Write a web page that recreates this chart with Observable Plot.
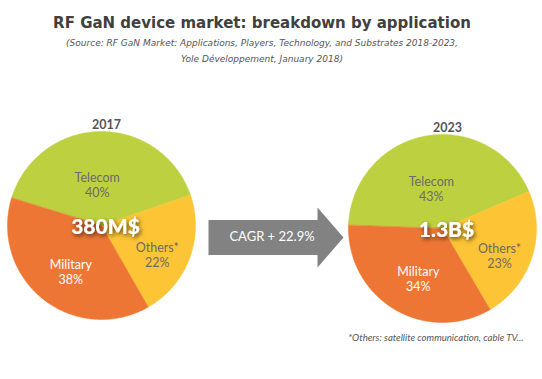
<!DOCTYPE html>
<html><head><meta charset="utf-8">
<script src="https://cdn.jsdelivr.net/npm/d3@7"></script>
<script src="https://cdn.jsdelivr.net/npm/@observablehq/plot@0.6"></script>
<style>
body{margin:0;background:#fff;}
#hdr{height:70px;width:524px;text-align:center;font-family:"DejaVu Sans",sans-serif;color:#404040;}
#t{font-weight:bold;font-size:15px;padding-top:14px;line-height:18px;}
#s{font-style:italic;font-size:9px;color:#555;line-height:16px;margin-top:3px;}
</style></head><body>
<div id="hdr"><div id="t">RF GaN device market: breakdown by application</div><div id="s">(Source: RF GaN Market: Applications, Players, Technology, and Substrates 2018-2023,<br>Yole Développement, January 2018)</div></div>
<div id="chart"></div>
<script>
const categories = ["Telecom", "Others*", "Military"];
const years = ["2017", "2023"];
const share2017 = [40, 22, 38];
const share2023 = [43, 23, 34];
const totals = ["380M$", "1.3B$"];
const cagrLabel = "CAGR + 22.9%";
const footnote = "*Others: satellite communication, cable TV...";

const colors = ["#bdd140", "#fdc535", "#ee7634"];
const labelColors = ["#6a6a6a", "#6a6a6a", "#ffffff"];
const labelR = [0.44, 0.67, 0.59];
const labelShift = [-5, 7, -5];

const W = 542, H = 379, TOP = 70;
const pies = [
  {year: years[0], total: totals[0], shares: share2017, cx: 101, cy: 225, r: 94, start: -73},
  {year: years[1], total: totals[1], shares: share2023, cx: 442, cy: 228, r: 94, start: -88}
];

const polys = [], labels = [], heads = [], centers = [];
pies.forEach(p => {
  let a = p.start;
  p.shares.forEach((v, i) => {
    const sweep = v / 100 * 360, a0 = a, a1 = a + sweep;
    const id = p.year + "-" + i;
    polys.push({id, cat: categories[i], x: p.cx, y: p.cy});
    const n = Math.ceil(sweep);
    for (let k = 0; k <= n; k++) {
      const t = (a0 + (a1 - a0) * k / n) * Math.PI / 180;
      polys.push({id, cat: categories[i], x: p.cx + p.r * Math.sin(t), y: p.cy - p.r * Math.cos(t)});
    }
    const m = ((a0 + a1) / 2 + labelShift[i]) * Math.PI / 180, lr = p.r * labelR[i];
    labels.push({x: p.cx + lr * Math.sin(m), y: p.cy - lr * Math.cos(m), text: categories[i] + "\n" + v + "%", color: labelColors[i]});
    a = a1;
  });
  heads.push({x: p.cx + 5, y: p.cy - p.r - 7, text: p.year});
  centers.push({x: p.cx + 4, y: p.cy + 2, text: p.total});
});

// decorative arrow (layout)
const ax0 = 208, ax1 = 317, atip = 343, ay = 237, bh = 17.5, hh = 30;
const arrow = [[ax0, ay - bh], [ax1, ay - bh], [ax1, ay - hh], [atip, ay], [ax1, ay + hh], [ax1, ay + bh], [ax0, ay + bh]].map(([x, y]) => ({x, y}));

const font = "Lato, 'Open Sans', sans-serif";
const chart = Plot.plot({
  width: W, height: H - TOP, margin: 0,
  style: {fontFamily: font, background: "white"},
  x: {domain: [0, W], range: [0, W], axis: null},
  y: {domain: [TOP, H], range: [0, H - TOP], axis: null},
  color: {domain: categories, range: colors},
  marks: [
    Plot.line(polys, {x: "x", y: "y", z: "id", fill: "cat", stroke: "cat", strokeWidth: 0.5, curve: "linear-closed"}),
    Plot.line(arrow, {x: "x", y: "y", fill: "#828282", stroke: "none", curve: "linear-closed"}),
    Plot.text([cagrLabel], {x: (ax0 + ax1) / 2 + 9, y: ay - 1, text: d => d, fill: "white", fontSize: 13}),
    Plot.text(heads, {x: "x", y: "y", text: "text", fill: "#555", fontSize: 12.5, fontWeight: "bold"}),
    Plot.text(labels, {x: "x", y: "y", text: "text", fill: "color", fontSize: 12.5, lineHeight: 1.2}),
    Plot.text(centers, {x: "x", y: "y", text: "text", fill: "white", fontSize: 21, fontWeight: "900"}),
    Plot.text([footnote], {x: 523, y: 337, text: d => d, textAnchor: "end", fill: "#555", fontSize: 9.6, fontStyle: "italic"})
  ]
});
document.getElementById("chart").appendChild(chart);

// soft shadow on center totals
const svg = d3.select(chart);
svg.insert("defs", ":first-child").append("filter").attr("id", "ts").attr("x", "-20%").attr("y", "-40%").attr("width", "140%").attr("height", "180%")
  .append("feDropShadow").attr("dx", 1.5).attr("dy", 2).attr("stdDeviation", 2).attr("flood-color", "#000").attr("flood-opacity", 0.65);
svg.selectAll("text").filter(function() { return totals.includes(this.textContent); }).attr("filter", "url(#ts)");
</script>
</body></html>
